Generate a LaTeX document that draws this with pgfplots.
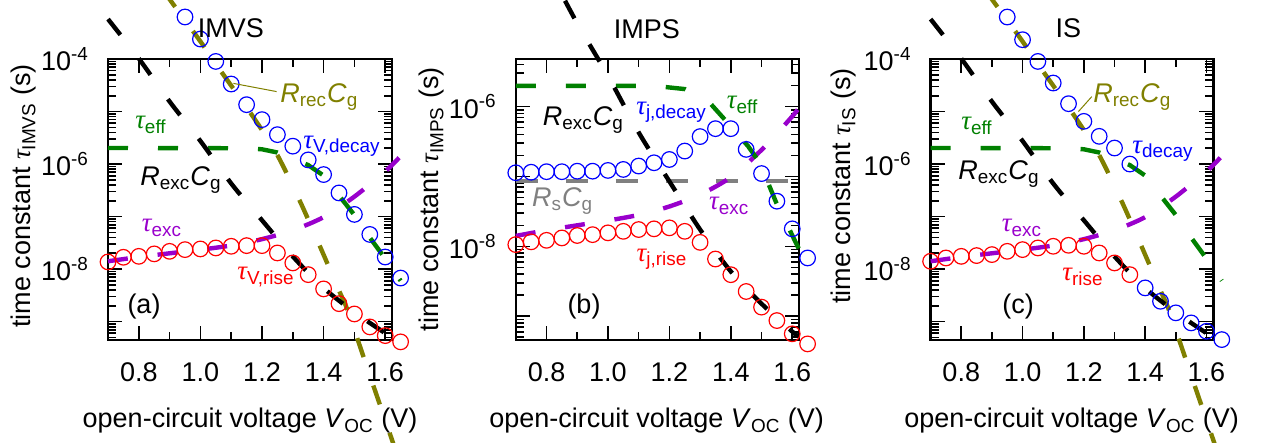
\documentclass[border=0pt]{standalone}
\usepackage{pgfplots}
\pgfplotsset{compat=1.18}
\usepackage{pgfplotstable}
\usepackage{fontspec}
\setmainfont{Liberation Sans}
\newfontfamily\taufont{Liberation Serif}
\newcommand{\tauit}{{\taufont\itshape τ}}
\newcommand{\lbl}{\fontsize{13.5}{16}\selectfont}
\definecolor{cgreen}{RGB}{0,128,0}
\definecolor{colive}{RGB}{128,128,0}
\definecolor{cpurple}{RGB}{153,0,204}
\definecolor{cgray}{RGB}{128,128,128}
\pgfplotstableread{
V t
0.70 5.75e-4
0.80 1.02e-4
0.90 1.55e-5
1.00 2.75e-6
1.10 4.27e-7
1.20 8.51e-8
1.30 1.74e-8
1.40 4.37e-9
1.50 1.51e-9
1.60 6.03e-10
1.62 5.13e-10
}\rexc
\pgfplotstableread{
V t
0.88 2.00e-3
0.909 1.16e-3
0.996 2.33e-4
1.067 5.81e-5
1.159 1.01e-5
1.246 1.63e-6
1.323 1.97e-7
1.388 2.72e-8
1.453 3.57e-9
1.479 1.57e-9
1.55 9.5e-11
1.622 5.62e-12
1.64 2.75e-12
}\rrec
\pgfplotstableread{
V t
0.70 1.41e-8
0.80 1.70e-8
0.90 2.00e-8
1.00 2.34e-8
1.10 2.82e-8
1.20 3.72e-8
1.30 5.50e-8
1.40 9.77e-8
1.50 2.40e-7
1.60 7.24e-7
1.645 1.32e-6
}\texc
\pgfplotstableread{
V t
0.70 2.02e-6
1.15 2.00e-6
1.20 1.91e-6
1.25 1.66e-6
1.30 1.26e-6
1.35 9.55e-7
1.40 6.03e-7
1.45 2.51e-7
1.50 1.07e-7
1.55 3.98e-8
1.60 1.585e-8
1.65 6.03e-9
}\teffac
\pgfplotstableread{
V t
0.70 1.98e-6
1.15 1.98e-6
1.25 1.78e-6
1.30 1.38e-6
1.33 1.15e-6
1.375 6.92e-7
1.456 2.72e-7
1.494 1.58e-7
1.548 4.20e-8
1.591 1.74e-8
1.623 8.91e-9
}\teffb
\begin{document}
\begin{tikzpicture}
\path[use as bounding box] (0pt,0pt) rectangle (631.5pt,221.5pt);
% ---------------- (a) IMVS
\begin{axis}[ymode=log, scale only axis, height=140.5pt, width=142pt, anchor=south west, at={(54pt,51.5pt)},
  xmin=0.7, xmax=1.622, clip=false,
  xtick={0.8,1.0,1.2,1.4,1.6}, xticklabels={0.8,1.0,1.2,1.4,1.6},
  minor xtick={0.9,1.1,1.3,1.5},
  tick align=inside, major tick length=7pt, minor tick length=4pt,
  tick style={black, line width=0.8pt},
  axis line style={line width=1.3pt},
  tick label style={font=\lbl},
  xticklabel style={yshift=-8pt},
  yticklabel style={xshift=-6pt},
  ymin=4.47e-10, ymax=1e-4,
  ytick={1e-9,1e-8,1e-7,1e-6,1e-5,1e-4},
  yticklabels={,10\textsuperscript{-8},,10\textsuperscript{-6},,10\textsuperscript{-4}},
  minor ytick={5e-10,6e-10,7e-10,8e-10,9e-10,2e-9,3e-9,4e-9,5e-9,6e-9,7e-9,8e-9,9e-9,2e-8,3e-8,4e-8,5e-8,6e-8,7e-8,8e-8,9e-8,2e-7,3e-7,4e-7,5e-7,6e-7,7e-7,8e-7,9e-7,2e-6,3e-6,4e-6,5e-6,6e-6,7e-6,8e-6,9e-6,2e-5,3e-5,4e-5,5e-5,6e-5,7e-5,8e-5,9e-5}]
\addplot[only marks, mark=o, blue, mark size=3.9pt, mark options={line width=0.6pt}] coordinates {(0.95,6.31e-4) (1.00,2.40e-4) (1.05,8.99e-5) (1.10,3.34e-5) (1.15,1.35e-5) (1.20,7.01e-6) (1.25,3.63e-6) (1.30,2.19e-6) (1.35,1.20e-6) (1.40,6.31e-7) (1.45,2.82e-7) (1.50,1.10e-7) (1.55,4.57e-8) (1.60,1.70e-8) (1.65,6.76e-9)};
\addplot[only marks, mark=o, red, mark size=3.9pt, mark options={line width=0.6pt}] coordinates {(0.70,1.37e-8) (0.75,1.68e-8) (0.80,1.75e-8) (0.85,1.95e-8) (0.90,2.18e-8) (0.95,2.35e-8) (1.00,2.42e-8) (1.05,2.53e-8) (1.10,2.72e-8) (1.15,2.80e-8) (1.20,2.80e-8) (1.25,2.03e-8) (1.30,1.31e-8) (1.35,7.85e-9) (1.40,4.20e-9) (1.45,2.20e-9) (1.50,1.40e-9) (1.55,7.94e-10) (1.60,5.42e-10) (1.65,4.12e-10)};
\addplot[cpurple, line width=2.2pt, dash pattern=on 10pt off 15pt, no marks, smooth] table[x=V,y=t] {\texc};
\addplot[cgreen, line width=2.2pt, dash pattern=on 10pt off 15pt, no marks] table[x=V,y=t] {\teffac};
\addplot[colive, line width=2.2pt, dash pattern=on 10pt off 15pt, no marks, smooth] table[x=V,y=t] {\rrec};
\addplot[black, line width=2.2pt, dash pattern=on 10pt off 15pt, no marks, smooth] table[x=V,y=t] {\rexc};
\end{axis}
% ---------------- (b) IMPS
\begin{axis}[ymode=log, scale only axis, height=140.5pt, width=141.6pt, anchor=south west, at={(257.9pt,51.5pt)},
  xmin=0.7, xmax=1.622, clip=false,
  xtick={0.8,1.0,1.2,1.4,1.6}, xticklabels={0.8,1.0,1.2,1.4,1.6},
  minor xtick={0.9,1.1,1.3,1.5},
  tick align=inside, major tick length=7pt, minor tick length=4pt,
  tick style={black, line width=0.8pt},
  axis line style={line width=1.3pt},
  tick label style={font=\lbl},
  xticklabel style={yshift=-8pt},
  yticklabel style={xshift=-6pt},
  ymin=4.57e-10, ymax=4.79e-6,
  ytick={1e-9,1e-8,1e-7,1e-6},
  yticklabels={,10\textsuperscript{-8},,10\textsuperscript{-6}},
  minor ytick={5e-10,6e-10,7e-10,8e-10,9e-10,2e-9,3e-9,4e-9,5e-9,6e-9,7e-9,8e-9,9e-9,2e-8,3e-8,4e-8,5e-8,6e-8,7e-8,8e-8,9e-8,2e-7,3e-7,4e-7,5e-7,6e-7,7e-7,8e-7,9e-7,2e-6,3e-6,4e-6}]
\addplot[only marks, mark=o, blue, mark size=3.9pt, mark options={line width=0.6pt}] coordinates {(0.70,1.13e-7) (0.75,1.15e-7) (0.80,1.17e-7) (0.85,1.17e-7) (0.90,1.19e-7) (0.95,1.19e-7) (1.00,1.22e-7) (1.05,1.26e-7) (1.10,1.41e-7) (1.15,1.57e-7) (1.20,1.75e-7) (1.25,2.31e-7) (1.30,3.72e-7) (1.35,4.83e-7) (1.40,4.83e-7) (1.45,2.44e-7) (1.50,1.10e-7) (1.55,4.43e-8) (1.60,1.78e-8) (1.65,6.82e-9)};
\addplot[only marks, mark=o, red, mark size=3.9pt, mark options={line width=0.6pt}] coordinates {(0.70,1.06e-8) (0.75,1.16e-8) (0.80,1.22e-8) (0.85,1.32e-8) (0.90,1.43e-8) (0.95,1.47e-8) (1.00,1.56e-8) (1.05,1.64e-8) (1.10,1.74e-8) (1.15,1.78e-8) (1.20,1.84e-8) (1.25,1.64e-8) (1.30,1.14e-8) (1.35,6.59e-9) (1.40,3.93e-9) (1.45,2.26e-9) (1.50,1.35e-9) (1.55,8.67e-10) (1.60,5.60e-10) (1.65,4.02e-10)};
\addplot[cgray, line width=2.2pt, dash pattern=on 11pt off 14pt, no marks] coordinates {(0.70,8.57e-8) (1.62,8.57e-8)};
\addplot[cpurple, line width=2.2pt, dash pattern=on 10pt off 15pt, no marks, smooth] table[x=V,y=t] {\texc};
\addplot[cgreen, line width=2.2pt, dash pattern=on 10pt off 15pt, no marks] table[x=V,y=t] {\teffb};
\addplot[black, line width=2.2pt, dash pattern=on 10pt off 15pt, no marks, smooth] table[x=V,y=t] {\rexc};
\end{axis}
% ---------------- (c) IS
\begin{axis}[ymode=log, scale only axis, height=140.5pt, width=141.3pt, anchor=south west, at={(465.3pt,51.5pt)},
  xmin=0.7, xmax=1.622, clip=false,
  xtick={0.8,1.0,1.2,1.4,1.6}, xticklabels={0.8,1.0,1.2,1.4,1.6},
  minor xtick={0.9,1.1,1.3,1.5},
  tick align=inside, major tick length=7pt, minor tick length=4pt,
  tick style={black, line width=0.8pt},
  axis line style={line width=1.3pt},
  tick label style={font=\lbl},
  xticklabel style={yshift=-8pt},
  yticklabel style={xshift=-6pt},
  ymin=4.47e-10, ymax=1e-4,
  ytick={1e-9,1e-8,1e-7,1e-6,1e-5,1e-4},
  yticklabels={,10\textsuperscript{-8},,10\textsuperscript{-6},,10\textsuperscript{-4}},
  minor ytick={5e-10,6e-10,7e-10,8e-10,9e-10,2e-9,3e-9,4e-9,5e-9,6e-9,7e-9,8e-9,9e-9,2e-8,3e-8,4e-8,5e-8,6e-8,7e-8,8e-8,9e-8,2e-7,3e-7,4e-7,5e-7,6e-7,7e-7,8e-7,9e-7,2e-6,3e-6,4e-6,5e-6,6e-6,7e-6,8e-6,9e-6,2e-5,3e-5,4e-5,5e-5,6e-5,7e-5,8e-5,9e-5}]
\addplot[only marks, mark=o, blue, mark size=3.9pt, mark options={line width=0.6pt}] coordinates {(0.95,6.30e-4) (1.00,2.33e-4) (1.05,8.99e-5) (1.10,3.49e-5) (1.15,1.41e-5) (1.20,6.50e-6) (1.25,3.37e-6) (1.30,2.02e-6) (1.35,1.00e-6)};
\addplot[only marks, mark=o, blue, mark size=3.9pt, mark options={line width=0.6pt}] coordinates {(1.40,4.39e-9) (1.45,2.44e-9) (1.50,1.47e-9) (1.55,9.46e-10) (1.60,6.55e-10) (1.65,4.55e-10)};
\addplot[only marks, mark=o, red, mark size=3.9pt, mark options={line width=0.6pt}] coordinates {(0.70,1.41e-8) (0.75,1.63e-8) (0.80,1.75e-8) (0.85,1.81e-8) (0.90,1.89e-8) (0.95,2.18e-8) (1.00,2.35e-8) (1.05,2.53e-8) (1.10,2.72e-8) (1.15,2.84e-8) (1.20,2.72e-8) (1.25,2.03e-8) (1.30,1.31e-8) (1.35,7.85e-9)};
\addplot[cpurple, line width=2.2pt, dash pattern=on 10pt off 15pt, no marks, smooth] table[x=V,y=t] {\texc};
\addplot[cgreen, line width=2.2pt, dash pattern=on 10pt off 15pt, no marks] table[x=V,y=t] {\teffac};
\addplot[colive, line width=2.2pt, dash pattern=on 10pt off 15pt, no marks, smooth] table[x=V,y=t] {\rrec};
\addplot[black, line width=2.2pt, dash pattern=on 10pt off 15pt, no marks, smooth] table[x=V,y=t] {\rexc};
\end{axis}
% ---------------- texts
\begin{scope}[every node/.style={font=\lbl, inner sep=0pt}]
\node at (115.4pt,207.3pt) {IMVS};
\node at (323.4pt,206.9pt) {IMPS};
\node at (534.2pt,207.3pt) {IS};
\node[rotate=90] at (12pt,123.5pt) {time constant \tauit\textsubscript{IMVS} (s)};
\node[rotate=90] at (216pt,121.8pt) {time constant \tauit\textsubscript{IMPS} (s)};
\node[rotate=90] at (422pt,128.5pt) {time constant \tauit\textsubscript{IS} (s)};
\node[anchor=base] at (125pt,7.5pt) {open-circuit voltage \textit{V}\textsubscript{OC} (V)};
\node[anchor=base] at (328.3pt,7.5pt) {open-circuit voltage \textit{V}\textsubscript{OC} (V)};
\node[anchor=base] at (535.8pt,7.5pt) {open-circuit voltage \textit{V}\textsubscript{OC} (V)};
\draw[colive, line width=0.5pt] (116.7pt,179.8pt) -- (138.3pt,175.7pt);
\node[anchor=west, colive] at (140pt,173pt) {\textit{R}\textsubscript{rec}\textit{C}\textsubscript{g}};
\node[cgreen] at (75.5pt,159pt) {\tauit\textsubscript{eff}};
\node at (90.5pt,131.5pt) {\textit{R}\textsubscript{exc}\textit{C}\textsubscript{g}};
\node[blue] at (171pt,148.5pt) {\tauit\textsubscript{V,decay}};
\node[cpurple] at (81pt,107.5pt) {\tauit\textsubscript{exc}};
\node[red] at (133pt,83pt) {\tauit\textsubscript{V,rise}};
\node at (72pt,68pt) {(a)};
\node at (291.7pt,161.5pt) {\textit{R}\textsubscript{exc}\textit{C}\textsubscript{g}};
\node[blue] at (335.8pt,165.2pt) {\tauit\textsubscript{j,decay}};
\node[cgreen] at (371.3pt,169pt) {\tauit\textsubscript{eff}};
\node[cgray] at (281.3pt,121.1pt) {\textit{R}\textsubscript{s}\textit{C}\textsubscript{g}};
\node[cpurple] at (364.6pt,118.6pt) {\tauit\textsubscript{exc}};
\node[red] at (331pt,92pt) {\tauit\textsubscript{j,rise}};
\node at (292pt,68pt) {(b)};
\draw[colive, line width=0.5pt] (545.9pt,173.2pt) -- (539.2pt,165.7pt);
\node[anchor=west, colive] at (546.5pt,173pt) {\textit{R}\textsubscript{rec}\textit{C}\textsubscript{g}};
\node[cgreen] at (488.5pt,158.5pt) {\tauit\textsubscript{eff}};
\node[blue] at (581.5pt,146pt) {\tauit\textsubscript{decay}};
\node at (499.5pt,134.5pt) {\textit{R}\textsubscript{exc}\textit{C}\textsubscript{g}};
\node[cpurple] at (511pt,107.5pt) {\tauit\textsubscript{exc}};
\node[red] at (541.5pt,83pt) {\tauit\textsubscript{rise}};
\node at (509pt,68pt) {(c)};
\end{scope}
\end{tikzpicture}
\end{document}
